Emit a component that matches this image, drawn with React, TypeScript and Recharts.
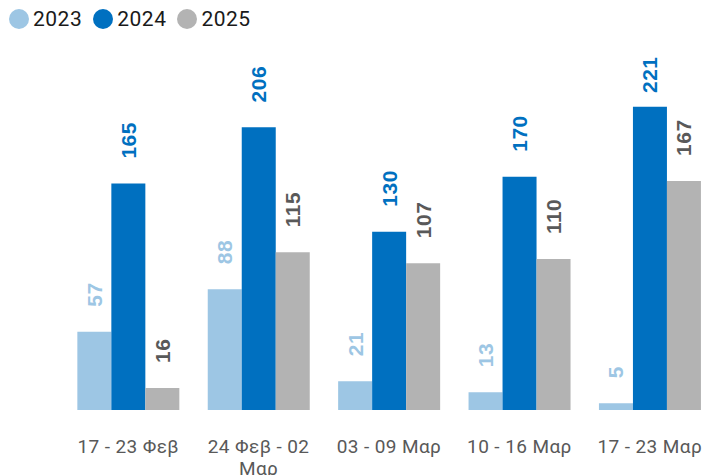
import React from 'react';
import { BarChart, Bar, XAxis, YAxis, LabelList } from 'recharts';

const categories = ['17 - 23 Φεβ', '24 Φεβ - 02 Μαρ', '03 - 09 Μαρ', '10 - 16 Μαρ', '17 - 23 Μαρ'];
const values2023 = [57, 88, 21, 13, 5];
const values2024 = [165, 206, 130, 170, 221];
const values2025 = [16, 115, 107, 110, 167];

const SERIES = [
  { key: 'y2023', name: '2023', fill: '#9dc6e4', label: '#9dc6e4' },
  { key: 'y2024', name: '2024', fill: '#0070c0', label: '#0070c0' },
  { key: 'y2025', name: '2025', fill: '#b3b3b3', label: '#595959' },
];

const data = categories.map((c, i) => ({
  name: c,
  y2023: values2023[i],
  y2024: values2024[i],
  y2025: values2025[i],
}));

// rotated value label, sitting a bit above the bar top
const makeLabel = (color: string) => (props: any) => {
  const { x, y, width, value } = props;
  const cx = x + width / 2;
  const startY = Math.max(y - 25, 93);
  return (
    <text
      x={cx}
      y={startY}
      transform={`rotate(-90, ${cx}, ${startY})`}
      fill={color}
      fontFamily="'Liberation Sans', Arial, sans-serif"
      fontWeight="bold"
      fontSize={21}
      letterSpacing={0.5}
      dominantBaseline="central"
      textAnchor="start"
    >
      {value}
    </text>
  );
};

// greedy word wrap by character count (band is ~12 chars wide)
const wrap = (s: string, max = 12) => {
  const lines: string[] = [];
  let cur = '';
  s.split(' ').forEach(w => {
    const next = cur ? cur + ' ' + w : w;
    if (next.length > max && cur) {
      lines.push(cur);
      cur = w;
    } else {
      cur = next;
    }
  });
  if (cur) lines.push(cur);
  return lines;
};

const CategoryTick = (props: any) => {
  const { x, y, payload } = props;
  const lines = wrap(String(payload.value));
  return (
    <text
      x={x}
      y={y + 35}
      textAnchor="middle"
      fill="#595959"
      fontSize={19}
      letterSpacing={0.4}
      fontFamily="Roboto, sans-serif"
    >
      {lines.map((l, i) => (
        <tspan key={i} x={x} dy={i === 0 ? 0 : 22}>{l}</tspan>
      ))}
    </text>
  );
};

const App = () => {
  return (
    <div style={{ position: 'absolute', left: 0, top: 0, width: 706, height: 475, overflow: 'hidden', background: '#fff' }}>
      <div style={{ position: 'absolute', left: 9, top: 7, display: 'flex', alignItems: 'center', fontFamily: 'Roboto, sans-serif', fontSize: 21, color: '#1a1a1a', letterSpacing: 0.5 }}>
        {SERIES.map(s => (
          <div key={s.key} style={{ display: 'flex', alignItems: 'center', marginRight: 11 }}>
            <span style={{ width: 20, height: 20, borderRadius: '50%', background: s.fill, display: 'inline-block', marginRight: 4 }} />
            <span>{s.name}</span>
          </div>
        ))}
      </div>
      <BarChart
        width={720}
        height={475}
        data={data}
        margin={{ top: 67, right: 5, bottom: 0, left: 63 }}
        barCategoryGap="11%"
        barGap={0}
      >
        <XAxis dataKey="name" axisLine={false} tickLine={false} height={65} interval={0} tick={<CategoryTick />} />
        <YAxis hide domain={[0, 250]} />
        {SERIES.map(s => (
          <Bar key={s.key} dataKey={s.key} name={s.name} fill={s.fill} isAnimationActive={false}>
            <LabelList dataKey={s.key} content={makeLabel(s.label)} />
          </Bar>
        ))}
      </BarChart>
    </div>
  );
};

export default App;
